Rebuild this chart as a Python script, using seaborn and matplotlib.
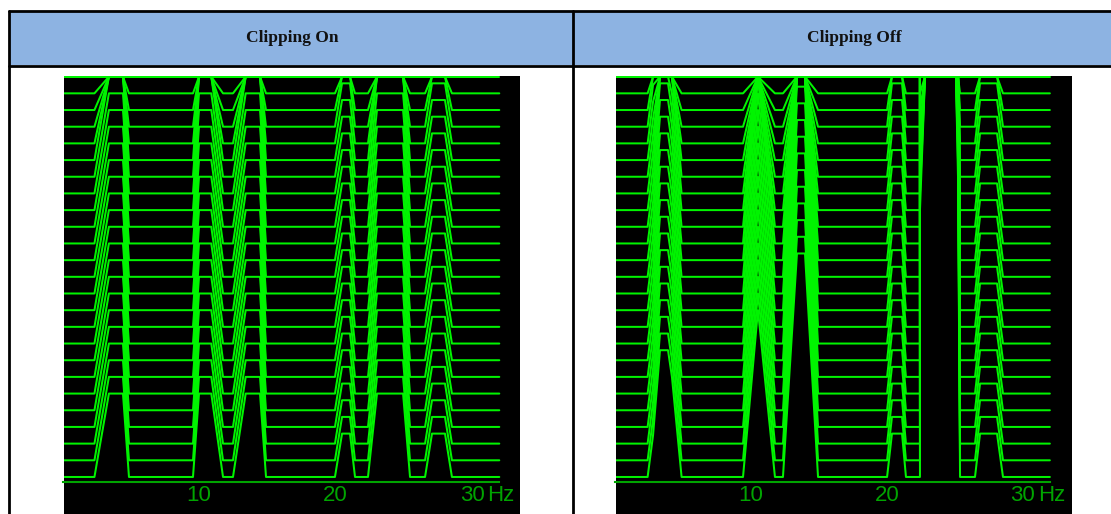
import numpy as np
import pandas as pd
import seaborn as sns
import matplotlib.pyplot as plt
from matplotlib.patches import Rectangle
from matplotlib.lines import Line2D

sns.set_style("white")

W, H = 1111, 514

# waterfall: 25 spectra stacked, one trace spacing apart
n_traces = 25
clip_level = 5.0
top_level = 24.0

# spectrum seen with clipping on (Hz, height in trace spacings)
on_hz = [0.0, 2.34, 3.40, 4.43, 4.87, 9.56, 10.0, 10.90, 11.76, 12.49, 13.42, 14.47, 14.91,
         19.96, 20.48, 21.06, 21.43, 22.38, 23.04, 24.95, 25.46, 26.56, 27.07, 28.02, 28.53, 32.0]
on_level = [0, 0, clip_level, clip_level, 0, 0, clip_level, clip_level, 0, 0, clip_level, clip_level, 0,
            0, 2.6, 2.6, 0, 0, clip_level, clip_level, 0, 0, 2.6, 2.6, 0, 0]

# spectrum seen with clipping off
off_hz = [0.0, 2.40, 2.80, 3.31, 3.90, 4.19, 4.90,
          9.42, 10.52, 11.77, 12.36, 13.39, 13.98, 14.94,
          20.02, 20.38, 21.12, 21.41, 22.44, 22.44, 22.81, 25.09, 25.24, 25.39,
          26.49, 26.86, 28.11, 28.55, 32.0]
off_level = [0, 0, 2.5, 7.6, 7.6, 6.0, 0,
             0, 10.0, 0, 0, 13.4, 13.4, 0,
             0, 2.6, 2.6, 0, 0, 16, 30, 30, 18, 0,
             0, 2.6, 2.6, 0, 0]

titles = ["Clipping On", "Clipping Off"]
tick_hz = [10, 20, 30]
tick_text = ["10", "20", "30"]

green = "#00f400"
dark_green = "#00a400"
label_font = ["Liberation Sans", "DejaVu Sans"]


def waterfall(hz, level):
    rows = []
    for i in range(n_traces):
        y = np.minimum(i + np.array(level, dtype=float), top_level)
        rows.append(pd.DataFrame({"hz": hz, "level": y, "trace": i}))
    return pd.concat(rows, ignore_index=True)


fig = plt.figure(figsize=(W / 100, H / 100), dpi=100)


def px_box(x0, y0, x1, y1):
    return [x0 / W, 1 - y1 / H, (x1 - x0) / W, (y1 - y0) / H]


# table header and borders
fig.add_artist(Rectangle((10 / W, 1 - 65 / H), 1 - 10 / W, 54 / H, transform=fig.transFigure,
                         facecolor="#8db3e2", edgecolor="none"))
for y in [11, 65.5]:
    fig.add_artist(Line2D([9 / W, 1], [1 - y / H] * 2, transform=fig.transFigure, color="black", lw=2))
for x in [9, 573]:
    fig.add_artist(Line2D([x / W] * 2, [0, 1 - 11 / H], transform=fig.transFigure, color="black", lw=2))
for cx, t in zip([292, 854], titles):
    fig.text(cx / W, 1 - 38 / H, t, ha="center", va="center", fontsize=12.5, fontweight="bold",
             family="Liberation Serif", color="#111111")

panels = [(64, 520, 62.5, 13.65, on_hz, on_level), (616, 1072, 615, 13.59, off_hz, off_level)]
for x0, x1, zero_px, px_per_hz, hz, level in panels:
    ax = fig.add_axes(px_box(x0, 76, x1, 514))
    ax.set_facecolor("black")
    df = waterfall(hz, level)
    sns.lineplot(data=df, x="hz", y="level", units="trace", estimator=None, sort=False,
                 color=green, lw=1.45, ax=ax, legend=False)
    ax.set_xlim((x0 - zero_px) / px_per_hz, (x1 - zero_px) / px_per_hz)
    ax.set_ylim(-2.22, 24.04)
    for s in ["top", "left", "right"]:
        ax.spines[s].set_visible(False)
    ax.spines["bottom"].set_position(("data", -0.3))
    ax.spines["bottom"].set_bounds(0, 32)
    ax.spines["bottom"].set_color(dark_green)
    ax.spines["bottom"].set_linewidth(1.5)
    ax.set_xticks(tick_hz, tick_text)
    ax.set_yticks([])
    ax.tick_params(axis="x", direction="in", length=4, width=1, color=dark_green,
                   labelcolor=dark_green, labelsize=16, pad=2)
    for lab in ax.get_xticklabels():
        lab.set_family(label_font)
    ax.annotate("Hz", (30, -0.3), xytext=(11, -2.5), textcoords="offset points", ha="left", va="top",
                fontsize=16, color=dark_green, family=label_font)
    ax.set_xlabel("")
    ax.set_ylabel("")

fig.savefig("out.png", dpi=100, facecolor="white")
